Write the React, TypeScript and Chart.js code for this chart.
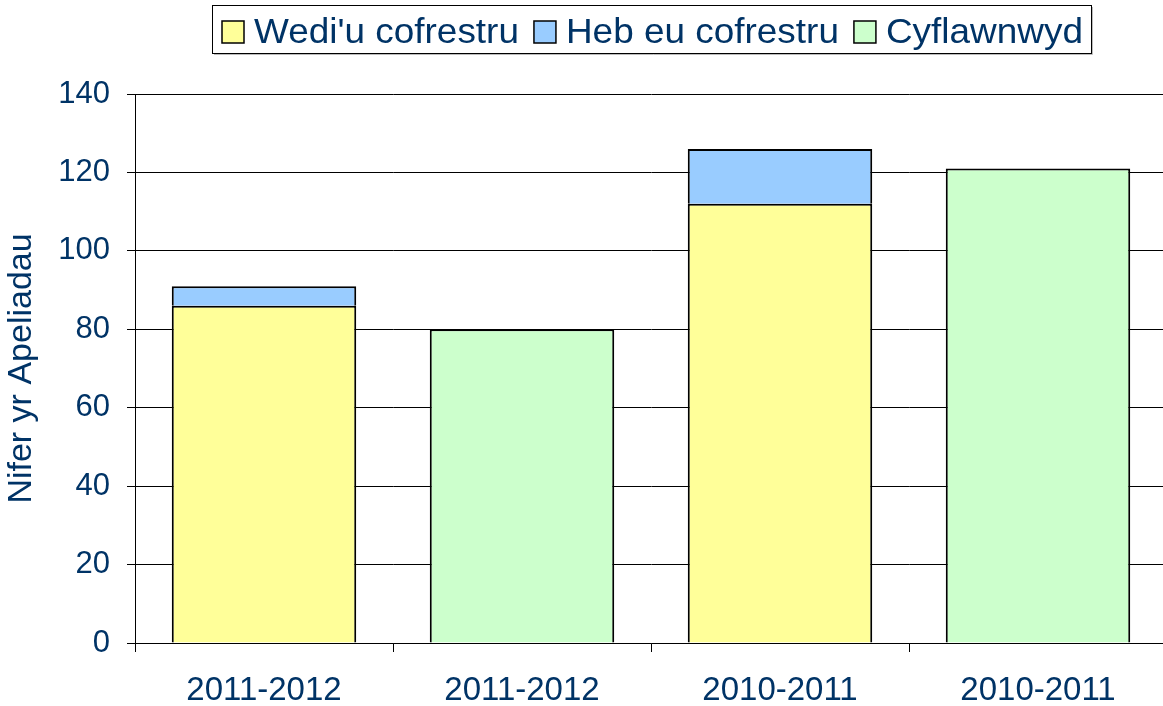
import React, { useEffect, useRef } from "react";
import { Chart, registerables } from "chart.js";

Chart.register(...registerables);

const categories = ["2011-2012", "2011-2012", "2010-2011", "2010-2011"];
const wediUCofrestru = [86, null, 112, null];
const hebEuCofrestru = [5, null, 14, null];
const cyflawnwyd = [null, 80, null, 121];
const seriesLabels = ["Wedi'u cofrestru", "Heb eu cofrestru", "Cyflawnwyd"];
const seriesColors = ["#FFFF99", "#99CCFF", "#CCFFCC"];
const yMin = 0;
const yMax = 140;
const yStep = 20;
const yTitle = "Nifer yr Apeliadau";

const NAVY = "#003366";
const FONT = '"Liberation Sans", Arial, sans-serif';

const boxedLegend = {
  id: "boxedLegend",
  afterDraw(chart: any) {
    const ctx = chart.ctx as CanvasRenderingContext2D;
    ctx.save();
    ctx.font = `35px ${FONT}`;
    const sx = 1.055;
    const items = chart.data.datasets.map((ds: any) => ({
      label: ds.label as string,
      color: ds.backgroundColor as string,
      w: ctx.measureText(ds.label).width * sx,
    }));
    const box = 22;
    const gap = 10;
    const spacing = 15;
    const padL = 10;
    const padR = 8;
    const total =
      padL +
      padR +
      items.reduce((s: number, it: any) => s + box + gap + it.w, 0) +
      spacing * (items.length - 1);
    const cx = (chart.chartArea.left + chart.chartArea.right) / 2;
    const x0 = Math.round(cx - total / 2);
    const top = 5;
    const h = 48;
    ctx.strokeStyle = "#bbbbbb";
    ctx.lineWidth = 1;
    ctx.beginPath();
    ctx.moveTo(x0 + 2, top + h + 1.5);
    ctx.lineTo(x0 + Math.round(total) + 1.5, top + h + 1.5);
    ctx.lineTo(x0 + Math.round(total) + 1.5, top + 2);
    ctx.stroke();
    ctx.strokeStyle = "#000";
    ctx.strokeRect(x0 + 0.5, top + 0.5, Math.round(total), h);
    let x = x0 + padL;
    const midY = 32;
    ctx.textBaseline = "middle";
    ctx.textAlign = "left";
    items.forEach((it: any, i: number) => {
      ctx.fillStyle = it.color;
      ctx.fillRect(x, midY - box / 2, box, box);
      ctx.lineWidth = 1.5;
      ctx.strokeStyle = "#000";
      ctx.strokeRect(x, midY - box / 2, box, box);
      x += box + gap;
      ctx.fillStyle = NAVY;
      ctx.save();
      ctx.translate(x, midY + 1);
      ctx.scale(sx, 1);
      ctx.fillText(it.label, 0, 0);
      ctx.restore();
      x += it.w + (i < items.length - 1 ? spacing : 0);
    });
    ctx.restore();
  },
};

export default function App() {
  const ref = useRef<HTMLCanvasElement>(null);
  useEffect(() => {
    document.body.style.margin = "0";
    document.body.style.overflow = "hidden";
    if (!ref.current) return;
    const common = {
      borderColor: "#000",
      borderWidth: 2,
      categoryPercentage: 1,
      barPercentage: 0.715,
    };
    const chart = new Chart(ref.current, {
      type: "bar",
      data: {
        labels: categories,
        datasets: [
          { label: seriesLabels[0], data: wediUCofrestru, backgroundColor: seriesColors[0], ...common },
          { label: seriesLabels[1], data: hebEuCofrestru, backgroundColor: seriesColors[1], ...common },
          { label: seriesLabels[2], data: cyflawnwyd, backgroundColor: seriesColors[2], ...common },
        ] as any,
      },
      options: {
        animation: false,
        responsive: false,
        layout: { padding: { top: 94, bottom: 0, left: 0, right: 0 } },
        plugins: {
          legend: { display: false },
          tooltip: { enabled: false },
        },
        scales: {
          x: {
            stacked: true,
            offset: true,
            grid: {
              drawOnChartArea: false,
              drawTicks: true,
              tickLength: 9,
              color: "#000",
              offset: true,
            },
            border: { display: true, color: "#000", width: 1 },
            ticks: {
              color: NAVY,
              font: { family: FONT, size: 33, lineHeight: 1 },
              padding: 22,
              maxRotation: 0,
              autoSkip: false,
            },
            afterFit: (scale: any) => {
              scale.height = 63;
            },
          },
          y: {
            stacked: true,
            min: yMin,
            max: yMax,
            grid: { color: "#000", tickLength: 8, lineWidth: 1 },
            border: { display: true, color: "#000", width: 1 },
            ticks: {
              stepSize: yStep,
              color: NAVY,
              font: { family: FONT, size: 31 },
              padding: 17,
            },
            title: {
              display: true,
              text: yTitle,
              color: NAVY,
              font: { family: FONT, size: 34, lineHeight: 1.2 },
              padding: { top: 1, bottom: 0 },
            },
            afterFit: (scale: any) => {
              scale.width = 135;
            },
          },
        },
      },
      plugins: [boxedLegend],
    });
    return () => chart.destroy();
  }, []);
  return (
    <div style={{ width: 1163, height: 706, overflow: "hidden" }}>
      <canvas ref={ref} width={1167} height={706} style={{ display: "block" }} />
    </div>
  );
}
